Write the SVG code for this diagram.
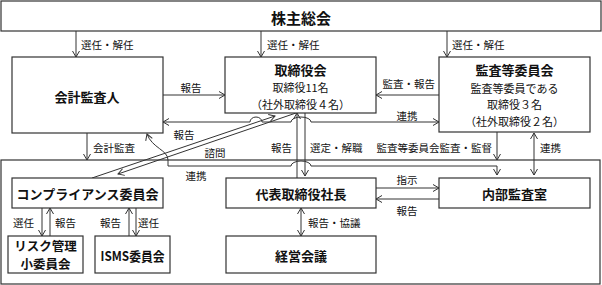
<svg xmlns="http://www.w3.org/2000/svg" width="602" height="285" viewBox="0 0 602 285">
<style>
text{font-family:"Noto Sans CJK JP","Noto Sans",sans-serif;fill:#111;dominant-baseline:central}
.t{font-size:13px;font-weight:700;text-anchor:middle}
.s{font-size:11px;text-anchor:middle}
.l{font-size:10.5px}
.m{text-anchor:middle}
.e{text-anchor:end}
.box{fill:#fff;stroke:#333;stroke-width:1.2}
.c{fill:none;stroke:#333;stroke-width:1}
</style>
<defs>
<marker id="a" markerUnits="userSpaceOnUse" markerWidth="10" markerHeight="10" refX="0" refY="0" viewBox="-8 -5 10 10" orient="auto-start-reverse">
<path d="M-6,-3.5 L0,0 L-6,3.5" fill="none" stroke="#333" stroke-width="1"/>
</marker>
</defs>
<rect x="1" y="160" width="599" height="124" fill="none" stroke="#333" stroke-width="1.2"/>
<g id="connectors">
<path class="c" d="M76,31 V57" marker-end="url(#a)"/>
<path class="c" d="M261,31 V57" stroke-width="1.6" marker-end="url(#a)"/>
<path class="c" d="M447,31 V57" marker-end="url(#a)"/>
<path class="c" d="M163,95 H225" marker-end="url(#a)"/>
<path class="c" d="M439,95 H376" marker-end="url(#a)"/>
<path class="c" d="M163,122 H250 A6,5 0 0 1 262,122 H291 A10,5 0 0 1 311,122 H439" marker-start="url(#a)" marker-end="url(#a)"/>
<path class="c" d="M92,178 L275,116" marker-end="url(#a)"/>
<path class="c" d="M296,113 L118,174" marker-end="url(#a)"/>
<path class="c" d="M87,133 V160" marker-end="url(#a)"/>
<path class="c" d="M497,175 V166 H311 A10,5 0 0 0 291,166 H168 V160 C168,150 152,148 147,134" marker-start="url(#a)" marker-end="url(#a)"/>
<path class="c" d="M297,178 V113" marker-end="url(#a)"/>
<path class="c" d="M305,113 V176" marker-end="url(#a)"/>
<path class="c" d="M497,132 V160" marker-end="url(#a)"/>
<path class="c" d="M534,133 V175" marker-start="url(#a)" marker-end="url(#a)"/>
<path class="c" d="M376,188 H439" marker-end="url(#a)"/>
<path class="c" d="M439,199 H376" marker-end="url(#a)"/>
<path class="c" d="M301,208 V236" stroke-width="1.4" marker-start="url(#a)" marker-end="url(#a)"/>
<path class="c" d="M42,208 V236" marker-end="url(#a)"/>
<path class="c" d="M50,236 V208" marker-end="url(#a)"/>
<path class="c" d="M129,236 V208" marker-end="url(#a)"/>
<path class="c" d="M136,208 V236" marker-end="url(#a)"/>
</g>
<g id="labels">
<text class="l" x="81" y="44">選任・解任</text>
<text class="l" x="267" y="44">選任・解任</text>
<text class="l" x="452" y="44">選任・解任</text>
<text class="l m" x="191" y="87">報告</text>
<text class="l e" x="435" y="83">監査・報告</text>
<text class="l m" x="407" y="115">連携</text>
<text class="l m" x="184" y="134">報告</text>
<text class="l m" x="215" y="152">諮問</text>
<text class="l" x="93" y="147">会計監査</text>
<text class="l m" x="196" y="175">連携</text>
<text class="l e" x="292" y="147">報告</text>
<text class="l" x="310" y="147">選定・解職</text>
<text class="l e" x="492" y="147">監査等委員会監査・監督</text>
<text class="l" x="540" y="147">連携</text>
<text class="l m" x="407" y="179">指示</text>
<text class="l m" x="407" y="210">報告</text>
<text class="l" x="308" y="222">報告・協議</text>
<text class="l" x="13" y="222">選任</text>
<text class="l" x="55" y="222">報告</text>
<text class="l" x="100" y="222">報告</text>
<text class="l" x="138" y="222">選任</text>
</g>
<g id="n-shareholders">
<rect class="box" x="1" y="1" width="600" height="30"/>
<text class="t" x="301" y="17" style="font-size:15px">株主総会</text>
</g>
<g id="n-auditor">
<rect class="box" x="12" y="57" width="151" height="76"/>
<text class="t" x="87" y="96">会計監査人</text>
</g>
<g id="n-board">
<rect class="box" x="225" y="57" width="151" height="56"/>
<text class="t" x="300.5" y="69.5">取締役会</text>
<text class="s" x="300.5" y="87">取締役11名</text>
<text class="s" x="300.5" y="104">（社外取締役４名）</text>
</g>
<g id="n-audit-committee">
<rect class="box" x="439" y="57" width="151" height="75"/>
<text class="t" x="514.5" y="69.5">監査等委員会</text>
<text class="s" x="514.5" y="87.5">監査等委員である</text>
<text class="s" x="514.5" y="104">取締役３名</text>
<text class="s" x="514.5" y="121">（社外取締役２名）</text>
</g>
<g id="n-compliance">
<rect class="box" x="12" y="178" width="151" height="30"/>
<text class="t" x="87.5" y="193">コンプライアンス委員会</text>
</g>
<g id="n-risk">
<rect class="box" x="8" y="236" width="75" height="37"/>
<text class="t" x="45.5" y="245.5" style="font-size:12.5px">リスク管理</text>
<text class="t" x="45.5" y="263" style="font-size:12.5px">小委員会</text>
</g>
<g id="n-isms">
<rect class="box" x="95" y="236" width="75" height="37"/>
<text class="t" x="132.5" y="255" textLength="64" lengthAdjust="spacingAndGlyphs">ISMS委員会</text>
</g>
<g id="n-president">
<rect class="box" x="226" y="178" width="150" height="30"/>
<text class="t" x="301" y="193">代表取締役社長</text>
</g>
<g id="n-management">
<rect class="box" x="226" y="236" width="150" height="37"/>
<text class="t" x="301" y="255">経営会議</text>
</g>
<g id="n-internal-audit">
<rect class="box" x="439" y="178" width="151" height="30"/>
<text class="t" x="514.5" y="193">内部監査室</text>
</g>
</svg>
